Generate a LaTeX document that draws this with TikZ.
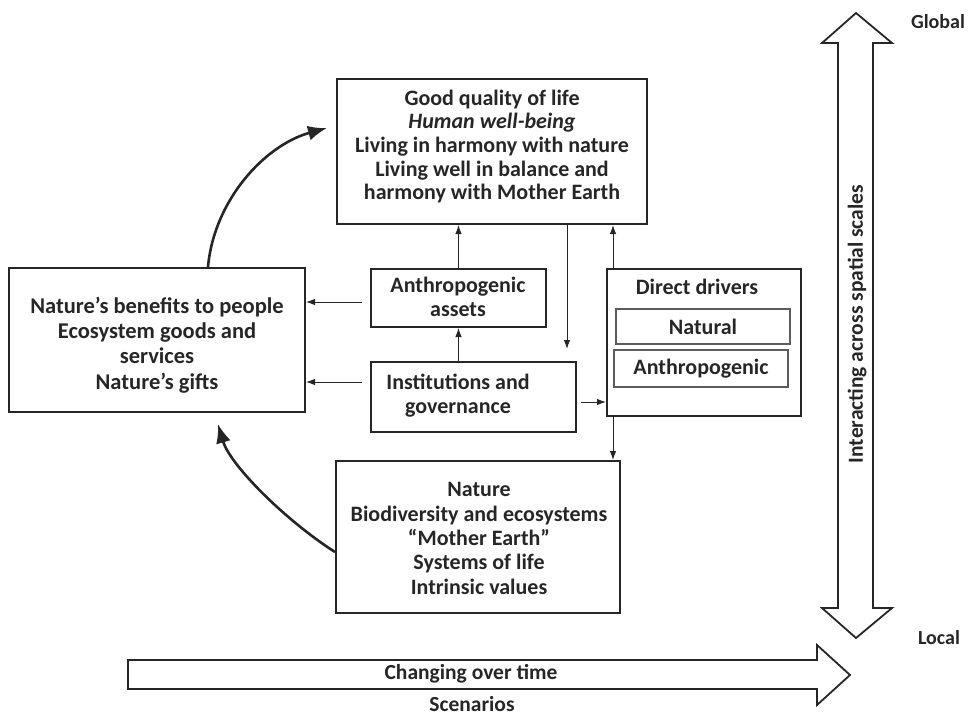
\documentclass[tikz,border=0pt]{standalone}
\usepackage{fontspec}
\setmainfont{Carlito}
\usetikzlibrary{arrows.meta}
\definecolor{ink}{HTML}{262626}
\begin{document}
\begin{tikzpicture}[x=1pt,y=-1pt,
  box/.style={draw=ink, line width=2pt, rectangle, inner sep=0pt},
  subbox/.style={draw=ink!75, line width=1.2pt, rectangle, inner sep=0pt, text=ink,
    font=\fontsize{22}{24}\selectfont\bfseries},
  txt/.style={text=ink, font=\fontsize{22}{24}\selectfont\bfseries, align=center, inner sep=0pt},
  arr/.style={draw=ink, line width=1pt, -{Latex[length=9pt,width=6.5pt]}},
  bigarr/.style={draw=ink, line width=2.6pt, -{Latex[length=19pt,width=15pt]}},
  hollow/.style={draw=ink, line width=1.8pt, fill=white, line join=miter},
  cond/.style={text=ink, font=\fontsize{21.5}{22}\selectfont\bfseries, inner sep=0pt},
  endlabel/.style={text=ink, font=\fontsize{20}{22}\selectfont\bfseries, inner sep=0pt}
]
\useasboundingbox (0,0) rectangle (968,718);

% boxes
\node[box, minimum width=310pt, minimum height=145pt] (good) at (492,151.5) {};
\node[txt, font=\fontsize{22}{23.6}\selectfont\bfseries] (goodtxt) at (492,146.5) {Good quality of life\\\textit{Human well-being}\\Living in harmony with nature\\Living well in balance and\\harmony with Mother Earth};

\node[box, minimum width=296pt, minimum height=144pt] (benefits) at (157,340) {};
\node[txt, font=\fontsize{22.5}{25.3}\selectfont\bfseries] (benefitstxt) at (157,345) {Nature’s benefits to people\\Ecosystem goods and\\services\\Nature’s gifts};

\node[box, minimum width=175pt, minimum height=58pt] (assets) at (458.5,298) {};
\node[txt] (assetstxt) at (458,297) {Anthropogenic\\assets};

\node[box, minimum width=205pt, minimum height=70pt] (inst) at (473.5,397) {};
\node[txt] (insttxt) at (458,395.5) {Institutions and\\governance};

\node[box, minimum width=194pt, minimum height=147pt] (drivers) at (704,342.5) {};
\node[txt] (driverstxt) at (697,287) {Direct drivers};
\node[subbox, minimum width=174pt, minimum height=35pt] (natural) at (703,326.5) {Natural};
\node[subbox, minimum width=174pt, minimum height=37pt] (anthro) at (701,368.5) {Anthropogenic};

\node[box, minimum width=284pt, minimum height=152pt] (nature) at (478,537) {};
\node[txt, font=\fontsize{22}{24.3}\selectfont\bfseries] (naturetxt) at (479,538.5) {Nature\\Biodiversity and ecosystems\\“Mother Earth”\\Systems of life\\Intrinsic values};

% straight connectors
\draw[arr] (assets.north) -- (assets.north |- good.south);
\draw[arr] (assets.south |- inst.north) -- (assets.south);
\draw[arr, shorten <=8pt] ([yshift=-4pt]assets.west) -- ([yshift=-4pt]assets.west -| benefits.east);
\draw[arr, shorten <=8pt] ([yshift=15pt]inst.west) -- ([yshift=15pt]inst.west -| benefits.east);
\draw[arr, shorten >=12pt] ([xshift=75pt]good.south) -- ([xshift=75pt]good.south |- inst.north);
\draw[arr] ([xshift=-91pt]drivers.north) -- ([xshift=-91pt]drivers.north |- good.south);
\draw[arr, shorten <=4pt] ([yshift=-5pt]inst.east) -- ([yshift=-5pt]inst.east -| drivers.west);
\draw[arr] ([xshift=-91pt]drivers.south) -- ([xshift=-91pt]drivers.south |- nature.north);

% curved connectors
\draw[bigarr] ([xshift=51pt]benefits.north) .. controls (214,200) and (265,145) .. ([xshift=-9pt,yshift=23.5pt]good.west);
\draw[bigarr] ([yshift=-15pt]nature.west) .. controls (285,520) and (230,465) .. ([xshift=61pt,yshift=-11pt]benefits.south);

% spatial scale arrow
\draw[hollow] (856,13) -- (892,43) -- (873,43) -- (873,608) -- (892,608) -- (856,638)
  -- (822,608) -- (838,608) -- (838,43) -- (822,43) -- cycle;
\node[cond, rotate=90] (scales) at (857,324) {Interacting across spatial scales};
\node[endlabel] (global) at (938,22) {Global};
\node[endlabel] (local) at (939,638) {Local};

% time arrow
\draw[hollow] (128,660) -- (817,660) -- (817,645) -- (850,675) -- (817,705) -- (817,689)
  -- (128,689) -- cycle;
\node[cond] (time) at (471,674) {Changing over time};
\node[cond] (scen) at (472,704) {Scenarios};
\end{tikzpicture}
\end{document}
